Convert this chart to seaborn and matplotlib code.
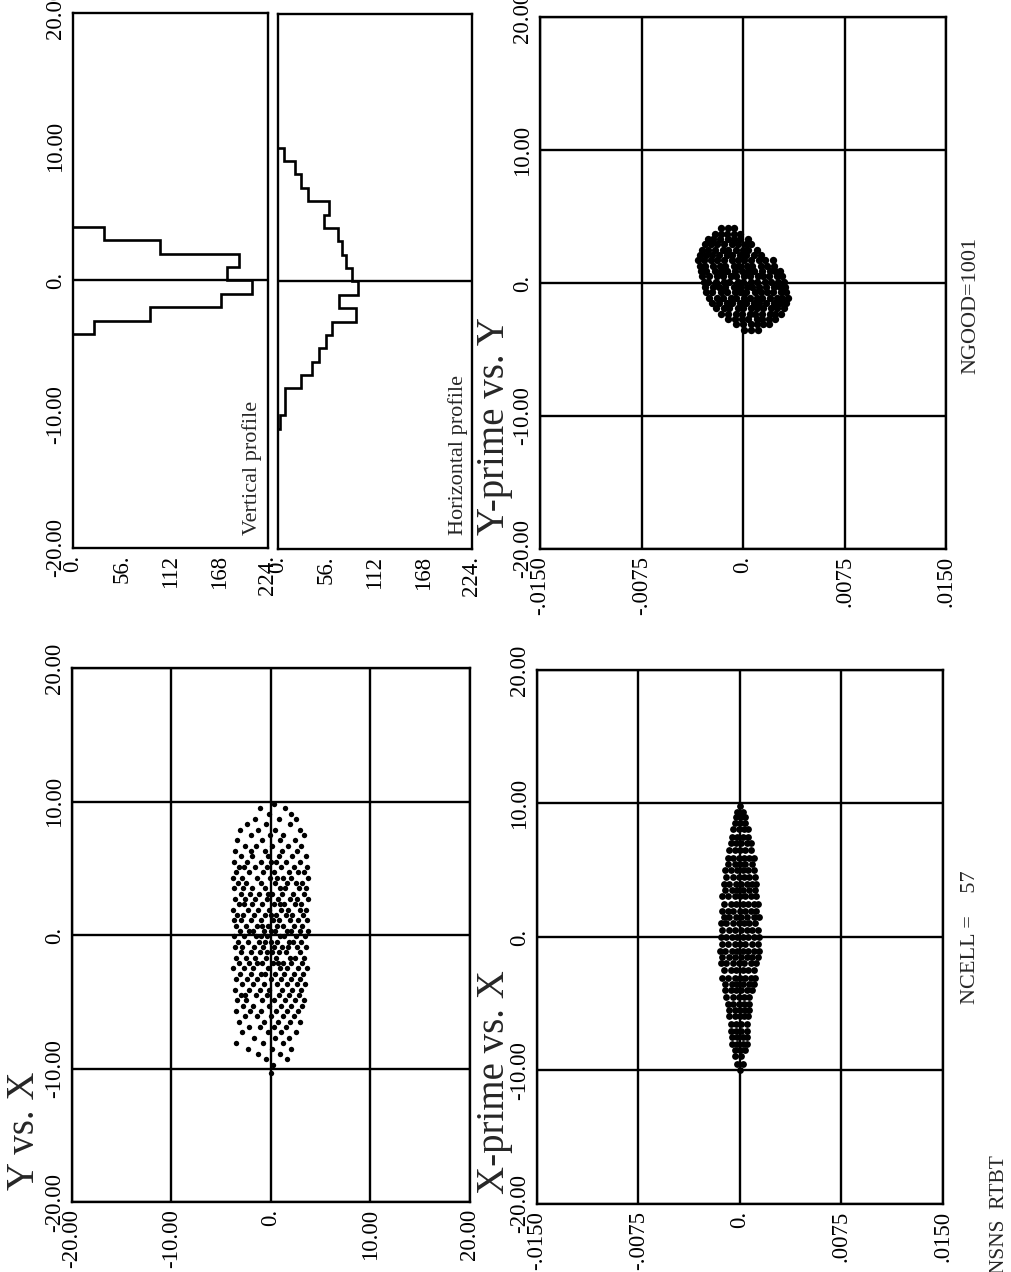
import pandas as pd
import matplotlib.pyplot as plt
import seaborn as sns

plt.switch_backend("Agg")
sns.set_theme(style="white")
plt.rcParams["font.family"] = ["Liberation Serif", "DejaVu Serif"]

# ---------------- tick values / labels ----------------
pos_ticks = [-20, -10, 0, 10, 20]
pos_labels = ["-20.00", "-10.00", "0.", "10.00", "20.00"]
ang_ticks = [-0.015, -0.0075, 0.0, 0.0075, 0.015]
ang_labels = ["-.0150", "-.0075", "0.", ".0075", ".0150"]
cnt_ticks = [0, 56, 112, 168, 224]
cnt_labels = ["0.", "56.", "112", "168", "224."]

# ---------------- profiles ----------------
vprof_edges = [-4, -3, -2, -1, 0, 1, 2, 3, 4]
vprof_counts = [24, 88, 170, 206, 177, 191, 100, 36]
hprof_edges = [-11, -10, -9, -8, -7, -6, -5, -4, -3, -2, -1, 0,
               1, 2, 3, 4, 5, 6, 7, 8, 9, 10]
hprof_counts = [2, 8, 8, 26, 39, 47, 55, 62, 90, 70, 92,
                86, 78, 74, 69, 53, 59, 35, 27, 20, 7]

# ---------------- Y vs. X cloud (rows of X, Y positions in each row) ----------------
yvx_x_levels = [9.8, 9.5, 9.1, 8.7, 8.3, 7.9, 7.5, 7.1, 6.7, 6.3, 5.9, 5.5, 5.1, 4.7,
                4.3, 3.9, 3.5, 3.1, 2.7, 2.3, 1.9, 1.5, 1.1, 0.7, 0.3, -0.1, -0.5,
                -0.9, -1.3, -1.7, -2.1, -2.5, -2.9, -3.3, -3.7, -4.1, -4.5, -4.9,
                -5.3, -5.7, -6.1, -6.5, -6.9, -7.3, -7.7, -8.1, -8.5, -8.9, -9.3,
                -9.7, -10.3]
yvx_y_rows = [
    [0.3], [-1.1, 1.4], [-0.2, 2.0], [-1.6, 0.8, 2.5], [-2.4, -0.5, 1.9],
    [-1.3, 0.4, 2.9, -3.1], [-2.0, 1.2, 3.3, -0.1], [-3.4, -0.9, 0.9, 2.4],
    [-2.6, -1.5, 0.1, 1.7, 3.0], [-3.6, -0.6, 1.1, 2.6, -2.0],
    [-3.0, -1.9, -0.3, 0.8, 2.1, 3.5], [-3.7, -2.4, -1.0, 0.5, 1.5, 2.9, 0.0],
    [-3.2, -1.6, -0.4, 1.0, 2.3, 3.6, -2.7], [-3.5, -2.2, -0.8, 0.3, 1.8, 2.7, 3.3],
    [-2.9, -1.4, -0.1, 1.2, 2.0, 3.7, -3.8, 0.6], [-3.3, -2.5, -1.0, 0.4, 1.6, 2.5, 3.1],
    [-3.7, -1.9, -0.6, 0.9, 1.4, 2.8, 3.5, -2.8], [-3.0, -2.1, -1.2, 0.1, 1.1, 2.2, 3.3, -0.3],
    [-3.6, -2.6, -1.6, -0.4, 0.7, 1.9, 2.6, 3.7], [-3.2, -1.9, -0.9, 0.3, 1.3, 2.4, 3.0, -2.7, 0.9],
    [-3.8, -2.3, -1.3, -0.2, 1.0, 1.7, 2.9, 3.5], [-3.4, -2.8, -1.7, -0.6, 0.5, 1.5, 2.1, 3.2, 0.0],
    [-3.0, -2.0, -1.0, 0.2, 0.8, 1.9, 2.7, 3.6, -3.7], [-3.5, -2.5, -1.4, -0.3, 0.6, 1.2, 2.3, 3.1, -0.9],
    [-3.1, -2.2, -1.8, -0.7, 0.4, 1.6, 2.0, 2.9, 3.7, 0.0], [-3.7, -2.7, -1.5, -0.4, 0.9, 1.3, 2.5, 3.4, -1.0],
    [-3.3, -2.3, -1.2, 0.0, 0.6, 1.8, 2.2, 3.0, -0.6], [-3.6, -2.9, -1.7, -0.8, 0.3, 1.1, 2.6, 3.5, 1.7],
    [-3.0, -2.0, -1.1, 0.1, 0.8, 1.5, 2.9, -0.4], [-3.5, -2.5, -1.6, -0.5, 0.5, 1.9, 2.4, 3.3],
    [-3.2, -2.2, -0.9, 0.2, 1.2, 2.0, 3.1, -1.4, 0.7], [-3.8, -2.7, -1.8, -0.3, 0.9, 1.6, 2.7, 3.6],
    [-3.1, -2.0, -1.0, 0.4, 1.3, 2.3, 3.2, -0.6], [-3.5, -2.4, -1.4, 0.0, 1.0, 2.0, 2.9],
    [-2.9, -1.8, -0.7, 0.6, 1.6, 2.6, 3.4], [-3.6, -2.2, -1.1, -0.2, 1.1, 2.1, 3.0],
    [-3.0, -1.5, -0.4, 0.8, 1.8, 2.8, -2.6], [-3.4, -2.5, -0.9, 0.3, 1.4, 2.4, 3.3],
    [-2.8, -1.8, -0.2, 1.0, 2.0, 3.1], [-3.5, -2.1, -1.0, 0.5, 1.6, 2.7],
    [-2.6, -1.4, 0.0, 1.2, 2.3], [-3.2, -0.7, 0.7, 1.9, 2.9], [-2.2, -1.1, 0.3, 1.5],
    [-2.9, -0.3, 1.0, 2.5], [-1.7, 0.4, 1.8], [-3.5, -0.8, 1.2], [-2.3, 0.1, 2.0],
    [-1.3, 0.9], [-0.5, 1.6], [0.2], [0.0],
]

# ---------------- X-prime vs. X cloud (X' in units of 1e-4) ----------------
xpx_x_levels = [9.8, 9.35, 8.95, 8.5, 8.05, 7.5, 7.05, 6.5, 5.95, 5.5, 5.05, 4.5, 3.95,
                3.5, 3.05, 2.5, 1.95, 1.5, 1.05, 0.5, 0.0, -0.5, -1.05, -1.5, -1.95,
                -2.5, -3.05, -3.5, -3.95, -4.5, -5.05, -5.5, -5.95, -6.5, -7.05, -7.5,
                -8.0, -8.5, -8.95, -9.5, -10.0]
xpx_xp_rows = [
    [0], [-2, 2], [1, -3, 4], [-4, 0, 4], [-5, -1, 3, 6], [-6, -2, 2, 6],
    [-7, -3, 1, 5, 8], [-8, -4, 0, 4, 8], [-9, -5, -1, 3, 7, 10], [-9, -4, 0, 4, 9],
    [-11, -7, -2, 2, 6, 10], [-10, -5, -1, 3, 7, 11], [-12, -8, -3, 1, 5, 9, 12],
    [-11, -6, -2, 2, 7, 11], [-13, -9, -4, 0, 4, 8, 12], [-12, -7, -3, 2, 6, 10, 13],
    [-13, -9, -5, 0, 4, 8, 12], [-12, -8, -3, 1, 5, 10, 14], [-14, -10, -5, -1, 3, 7, 11],
    [-13, -8, -4, 1, 5, 9, 13], [-14, -10, -6, -2, 2, 6, 10, 14], [-13, -9, -4, 0, 4, 9, 13],
    [-15, -11, -6, -2, 2, 6, 10, 14], [-13, -8, -4, 1, 5, 9, 13], [-14, -10, -5, -1, 3, 8, 12],
    [-12, -7, -3, 2, 6, 10], [-13, -9, -4, 0, 4, 8, 11], [-11, -6, -2, 2, 7, 10],
    [-11, -7, -3, 1, 5, 9], [-10, -5, -1, 3, 7], [-9, -5, -1, 3, 7], [-8, -4, 0, 4, 7],
    [-8, -4, 0, 3, 6], [-7, -3, 1, 5], [-7, -3, 1, 5], [-6, -2, 2, 5], [-6, -2, 2, 5],
    [-4, 0, 4], [-4, 1], [-2, 2], [0],
]

# ---------------- Y-prime vs. Y cloud (Y' in units of 1e-4) ----------------
ypy_y_levels = [4.1, 3.7, 3.3, 2.9, 2.5, 2.1, 1.7, 1.3, 0.9, 0.5, 0.1, -0.3, -0.7,
                -1.1, -1.5, -1.9, -2.3, -2.7, -3.1, -3.5]
ypy_yp_rows = [
    [-16, -11, -7],
    [-21, -16, -12, -7, -2],
    [-26, -22, -17, -11, -7, -2, 4],
    [-28, -24, -19, -14, -8, -4, 2, 6],
    [-30, -26, -21, -15, -11, -5, 0, 4, 10],
    [-32, -27, -23, -18, -12, -8, -2, 2, 8, 13],
    [-33, -29, -24, -19, -14, -8, -4, 1, 6, 12, 16, 22],
    [-32, -28, -22, -17, -13, -7, -3, 3, 7, 13, 18, 23],
    [-31, -27, -21, -16, -12, -6, -1, 4, 8, 14, 20, 24, 27],
    [-30, -25, -19, -15, -9, -5, 1, 5, 11, 15, 19, 25, 29],
    [-29, -26, -20, -14, -10, -4, 0, 6, 10, 16, 21, 26, 30],
    [-28, -22, -18, -13, -7, -3, 3, 7, 12, 17, 23, 27, 31],
    [-27, -23, -16, -12, -6, -2, 2, 9, 13, 18, 22, 28, 32],
    [-25, -19, -15, -9, -5, 1, 5, 10, 14, 20, 25, 29, 33],
    [-23, -18, -12, -8, -2, 2, 8, 12, 17, 23, 27, 32],
    [-20, -14, -10, -4, 0, 6, 10, 15, 21, 25, 30],
    [-16, -11, -5, -1, 5, 9, 14, 20, 24, 28],
    [-11, -6, -1, 4, 10, 14, 19, 24],
    [-5, 0, 6, 10, 15, 19],
    [1, 6, 11],
]


def expand(levels, rows, scale=1.0):
    h, v = [], []
    for lev, row in zip(levels, rows):
        for val in row:
            h.append(val * scale)
            v.append(lev)
    return pd.DataFrame({"h": h, "v": v})


def style_axes(ax, xt, xl, yt, yl, ylabels=True, grid=True):
    ax.set_xticks(xt)
    ax.set_xticklabels(xl, rotation=90)
    ax.set_yticks(yt)
    if ylabels:
        ax.set_yticklabels(yl, rotation=90, va="center")
    else:
        ax.set_yticklabels([])
    ax.set_xlim(xt[0], xt[-1])
    ax.set_ylim(yt[0], yt[-1])
    ax.tick_params(length=0, labelsize=16.5, pad=5, colors="black")
    ax.set_xlabel("")
    ax.set_ylabel("")
    for s in ax.spines.values():
        s.set_visible(True)
        s.set_color("black")
        s.set_linewidth(1.7)
    if grid:
        ax.grid(True, color="black", linewidth=1.7)
        ax.set_axisbelow(True)


fig = plt.figure(figsize=(10.12, 12.72), dpi=100)
fig.patch.set_facecolor("white")

# Y vs. X
ax_a = fig.add_axes([0.0711, 0.0550, 0.3933, 0.4198])
df_a = expand(yvx_x_levels, yvx_y_rows)
sns.scatterplot(data=df_a, x="h", y="v", s=15, color="black", linewidth=0, ax=ax_a, zorder=3)
style_axes(ax_a, pos_ticks, pos_labels, pos_ticks, pos_labels)

# X-prime vs. X
ax_b = fig.add_axes([0.5306, 0.0535, 0.4012, 0.4198])
df_b = expand(xpx_x_levels, xpx_xp_rows, 1e-4)
sns.scatterplot(data=df_b, x="h", y="v", s=24, color="black", linewidth=0, ax=ax_b, zorder=3)
style_axes(ax_b, ang_ticks, ang_labels, pos_ticks, pos_labels)

# Y-prime vs. Y
ax_c = fig.add_axes([0.5336, 0.5684, 0.4012, 0.4182])
df_c = expand(ypy_y_levels, ypy_yp_rows, 1e-4)
sns.scatterplot(data=df_c, x="h", y="v", s=28, color="black", linewidth=0, ax=ax_c, zorder=3)
style_axes(ax_c, ang_ticks, ang_labels, pos_ticks, pos_labels)

# profiles: closed step outlines drawn along the count axis
ax_d1 = fig.add_axes([0.0721, 0.5692, 0.1927, 0.4206])
ax_d1.stairs(vprof_counts, vprof_edges, orientation="horizontal", baseline=0,
             color="black", linewidth=1.9)
ax_d1.axhline(0, color="black", linewidth=1.7)
style_axes(ax_d1, cnt_ticks, cnt_labels, pos_ticks, pos_labels, grid=False)

ax_d2 = fig.add_axes([0.2747, 0.5684, 0.1917, 0.4206])
ax_d2.stairs(hprof_counts, hprof_edges, orientation="horizontal", baseline=0,
             color="black", linewidth=1.9)
ax_d2.axhline(0, color="black", linewidth=1.7)
style_axes(ax_d2, cnt_ticks, cnt_labels, pos_ticks, pos_labels, ylabels=False, grid=False)

# texts (page is printed sideways)
fig.text(0.0247, 0.0645, "Y vs. X", rotation=90, ha="center", va="bottom", fontsize=28)
fig.text(0.489, 0.0613, "X-prime vs. X", rotation=90, ha="center", va="bottom", fontsize=28)
fig.text(0.489, 0.5794, "Y-prime vs. Y", rotation=90, ha="center", va="bottom", fontsize=28)
fig.text(0.249, 0.5794, "Vertical profile", rotation=90, ha="center", va="bottom", fontsize=16)
fig.text(0.4526, 0.5794, "Horizontal profile", rotation=90, ha="center", va="bottom", fontsize=16)
fig.text(0.9585, 0.263, "NCELL =    57", rotation=90, ha="center", va="center", fontsize=16)
fig.text(0.9595, 0.760, "NGOOD=1001", rotation=90, ha="center", va="center", fontsize=16)
fig.text(0.988, 0.0455, "NSNS  RTBT", rotation=90, ha="center", va="center", fontsize=15.5)

fig.savefig("out.png", dpi=100, facecolor="white")
